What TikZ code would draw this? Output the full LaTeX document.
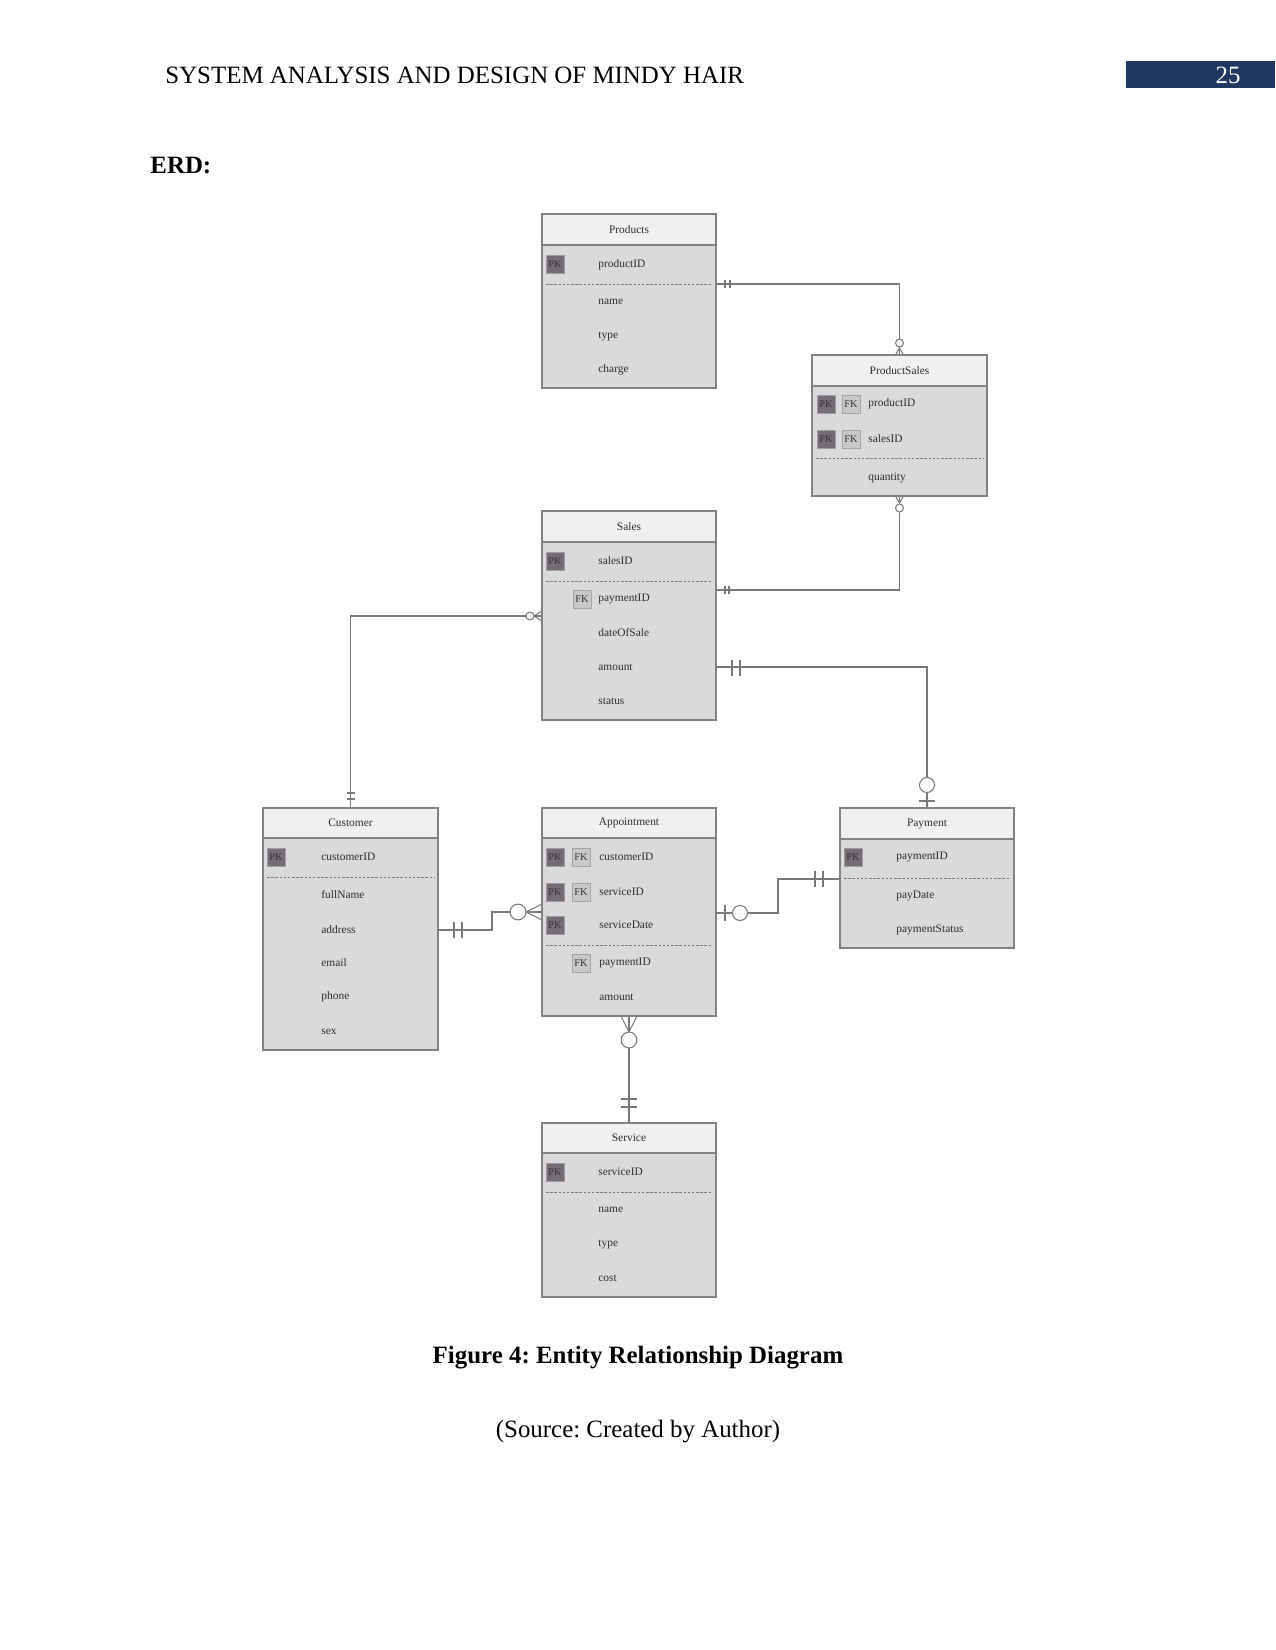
\documentclass[tikz,border=0pt]{standalone}
\usepackage{fontspec}
\setmainfont{Liberation Serif}
\usetikzlibrary{fit}
\frenchspacing
\definecolor{bodyc}{RGB}{218,218,218}
\definecolor{headc}{RGB}{240,240,240}
\definecolor{bordc}{RGB}{130,130,130}
\definecolor{pkc}{RGB}{118,108,118}
\definecolor{pkbd}{RGB}{160,155,160}
\definecolor{fkc}{RGB}{200,200,200}
\definecolor{fkbd}{RGB}{165,165,165}
\definecolor{attrc}{RGB}{45,45,45}
\definecolor{relc}{RGB}{120,120,120}
\definecolor{pagec}{RGB}{31,56,100}
\newcommand\erent[7]{%
  \node[ebody, fit={(#2,#3)(#5,#6)}] (#1) {};
  \node[ehead, fit={(#2,#3)(#5,#4)}] (#1-h) {};
  \node[etitle] (#1-t) at (#1-h.center) {#7};}
\begin{document}
\begin{tikzpicture}[x=0.48bp,y=-0.48bp,
  ebody/.style={draw=bordc, fill=bodyc, line width=0.7bp, inner sep=0pt},
  ehead/.style={draw=bordc, fill=headc, line width=0.7bp, inner sep=0pt},
  etitle/.style={font=\fontsize{5.5}{6}\selectfont, text=attrc, inner sep=0pt},
  eattr/.style={anchor=west, font=\fontsize{5.5}{6}\selectfont, text=attrc, inner sep=0pt},
  pkb/.style={draw=pkbd, fill=pkc, line width=0.4bp, minimum width=8.6bp, minimum height=8.6bp, inner sep=0pt, font=\fontsize{5}{5}\selectfont, text=black!80},
  fkb/.style={draw=fkbd, fill=fkc, line width=0.4bp, minimum width=8.6bp, minimum height=8.6bp, inner sep=0pt, font=\fontsize{5}{5}\selectfont, text=black!80},
  dashl/.style={draw=relc, line width=0.4bp, dash pattern=on 1.2bp off 0.8bp},
  rel/.style={draw=relc, line width=0.5bp},
  ring/.style={draw=relc, line width=0.5bp, fill=white},
  hdr/.style={font=\fontsize{12}{14}\selectfont, inner sep=0pt}]
\useasboundingbox (0,0) rectangle (1275,1650);
\fill[white] (0,0) rectangle (1275,1650);

% page header
\node[hdr, anchor=west] (title) at (165,75) {SYSTEM ANALYSIS AND DESIGN OF MINDY HAIR};
\node[fill=pagec, fit={(1126,61)(1275,88)}, inner sep=0pt] (pagebox) {};
\node[hdr, text=white] (pagenum) at (1228,75) {25};
\node[hdr, anchor=west, font=\fontsize{12}{14}\selectfont\bfseries] (erd) at (150,166) {ERD:};

% Products
\erent{prod}{542}{214}{245}{716}{388}{Products}
\node[pkb] (prod-pk) at (555,264) {PK};
\node[eattr] (prod-a1) at (598,265) {productID};
\draw[dashl] (546,284) -- (712,284);
\node[eattr] (prod-a2) at (598,302) {name};
\node[eattr] (prod-a3) at (598,337) {type};
\node[eattr] (prod-a4) at (598,370) {charge};

% ProductSales
\erent{ps}{812}{355}{386}{987}{496}{ProductSales}
\node[pkb] (ps-pk1) at (826,404) {PK};
\node[fkb] (ps-fk1) at (851,404) {FK};
\node[eattr] (ps-a1) at (868,404) {productID};
\node[pkb] (ps-pk2) at (826,439) {PK};
\node[fkb] (ps-fk2) at (851,439) {FK};
\node[eattr] (ps-a2) at (868,439) {salesID};
\draw[dashl] (816,458) -- (983,458);
\node[eattr] (ps-a3) at (868,478) {quantity};

% Sales
\erent{sales}{542}{511}{542}{716}{720}{Sales}
\node[pkb] (sales-pk) at (555,561) {PK};
\node[eattr] (sales-a1) at (598,561) {salesID};
\draw[dashl] (546,581) -- (712,581);
\node[fkb] (sales-fk) at (582,599) {FK};
\node[eattr] (sales-a2) at (598,599) {paymentID};
\node[eattr] (sales-a3) at (598,633) {dateOfSale};
\node[eattr] (sales-a4) at (598,667) {amount};
\node[eattr] (sales-a5) at (598,701) {status};

% Customer
\erent{cust}{263}{808}{838}{438}{1050}{Customer}
\node[pkb] (cust-pk) at (276,857) {PK};
\node[eattr] (cust-a1) at (321,857) {customerID};
\draw[dashl] (267,877) -- (434,877);
\node[eattr] (cust-a2) at (321,895) {fullName};
\node[eattr] (cust-a3) at (321,930) {address};
\node[eattr] (cust-a4) at (321,963) {email};
\node[eattr] (cust-a5) at (321,997) {phone};
\node[eattr] (cust-a6) at (321,1032) {sex};

% Appointment
\erent{appt}{542}{808}{838}{716}{1016}{Appointment}
\node[pkb] (appt-pk1) at (555,857) {PK};
\node[fkb] (appt-fk1) at (581,857) {FK};
\node[eattr] (appt-a1) at (599,857) {customerID};
\node[pkb] (appt-pk2) at (555,892) {PK};
\node[fkb] (appt-fk2) at (581,892) {FK};
\node[eattr] (appt-a2) at (599,892) {serviceID};
\node[pkb] (appt-pk3) at (555,925) {PK};
\node[eattr] (appt-a3) at (599,925) {serviceDate};
\draw[dashl] (546,945) -- (712,945);
\node[fkb] (appt-fk4) at (581,963) {FK};
\node[eattr] (appt-a4) at (599,963) {paymentID};
\node[eattr] (appt-a5) at (599,997) {amount};

% Payment
\erent{pay}{840}{808}{839}{1014}{948}{Payment}
\node[pkb] (pay-pk) at (853,857) {PK};
\node[eattr] (pay-a1) at (896,857) {paymentID};
\draw[dashl] (844,878) -- (1010,878);
\node[eattr] (pay-a2) at (896,896) {payDate};
\node[eattr] (pay-a3) at (896,930) {paymentStatus};

% Service
\erent{svc}{542}{1123}{1153}{716}{1297}{Service}
\node[pkb] (svc-pk) at (555,1172) {PK};
\node[eattr] (svc-a1) at (598,1172) {serviceID};
\draw[dashl] (546,1192) -- (712,1192);
\node[eattr] (svc-a2) at (598,1210) {name};
\node[eattr] (svc-a3) at (598,1245) {type};
\node[eattr] (svc-a4) at (598,1278) {cost};

% ---- relationships ----
% Products -- ProductSales
\draw[rel] (prod.east |- 0,284) -| (ps.north);
\draw[rel] (725,280) -- (725,288) (730,280) -- (730,288);
\draw[rel] (895.5,355) -- (899.5,348) -- (903.5,355);
\draw[ring] (899.5,343) circle[radius=1.9bp];
% Sales -- ProductSales
\draw[rel] (sales.east |- 0,590) -| (ps.south);
\draw[rel] (725,586) -- (725,594) (729,586) -- (729,594);
\draw[rel] (895.5,496) -- (899.5,503) -- (903.5,496);
\draw[ring] (899.5,508) circle[radius=1.9bp];
% Customer -- Sales
\draw[rel] (sales.west |- 0,616) -| (cust.north);
\draw[rel] (542,611) -- (534,616) -- (542,621);
\draw[ring] (530,616) circle[radius=1.9bp];
\draw[rel] (346.5,793) -- (354.5,793) (346.5,799) -- (354.5,799);
% Sales -- Payment
\draw[rel] (sales.east |- 0,667) -| (pay.north);
\draw[rel] (732,660) -- (732,676) (740,660) -- (740,676);
\draw[rel] (919,801) -- (935,801);
\draw[ring] (927,785) circle[radius=3.6bp];
% Customer -- Appointment
\draw[rel] (cust.east |- 0,930) -- (492,930) |- (appt.west |- 0,912);
\draw[rel] (454,922) -- (454,938) (462,922) -- (462,938);
\draw[rel] (542,904) -- (526,912) -- (542,920);
\draw[ring] (518,912) circle[radius=3.8bp];
% Appointment -- Payment
\draw[rel] (appt.east |- 0,913) -- (778,913) |- (pay.west |- 0,879);
\draw[rel] (725,905) -- (725,921);
\draw[ring] (740,913) circle[radius=3.6bp];
\draw[rel] (815,871) -- (815,887) (823,871) -- (823,887);
% Appointment -- Service
\draw[rel] (appt.south) -- (svc.north);
\draw[rel] (621,1016) -- (629,1032) -- (637,1016);
\draw[ring] (629,1040) circle[radius=3.8bp];
\draw[rel] (621,1099) -- (637,1099) (621,1107) -- (637,1107);

% caption
\node[hdr, font=\fontsize{12}{14}\selectfont\bfseries] (cap) at (638,1358) {Figure 4: Entity Relationship Diagram};
\node[hdr] (src) at (638,1432) {(Source: Created by Author)};
\end{tikzpicture}
\end{document}
